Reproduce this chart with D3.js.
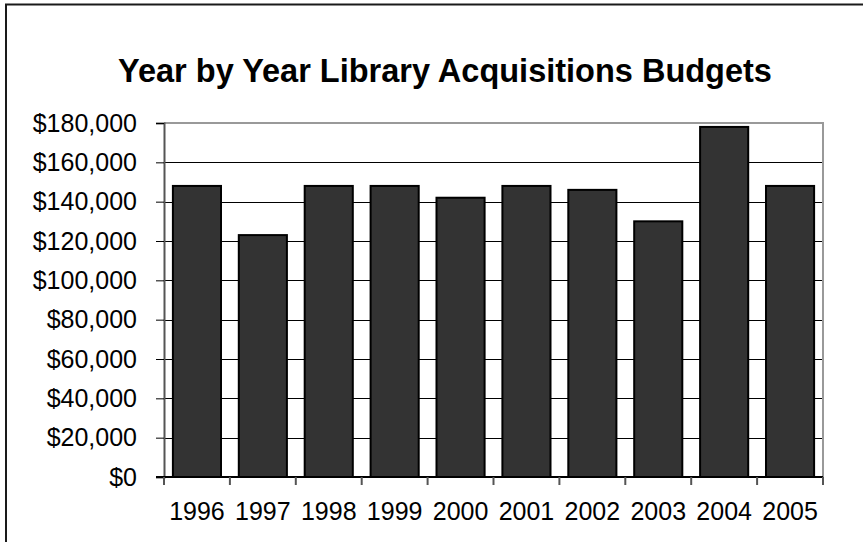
<!DOCTYPE html>
<html>
<head>
<meta charset="utf-8">
<script src="https://cdn.jsdelivr.net/npm/d3@7"></script>
<style>
  html, body { margin: 0; padding: 0; background: #fff; }
  svg { display: block; }
  text { font-family: "Liberation Sans", Arial, sans-serif; fill: #000; }
</style>
</head>
<body>
<svg id="chart" width="863" height="542"></svg>
<script>
const years = ["1996", "1997", "1998", "1999", "2000", "2001", "2002", "2003", "2004", "2005"];
const budgets = [148000, 123000, 148000, 148000, 142000, 148000, 146000, 130000, 178000, 148000];
const yTicks = [0, 20000, 40000, 60000, 80000, 100000, 120000, 140000, 160000, 180000];
const title = "Year by Year Library Acquisitions Budgets";

const W = 863, H = 542;
const plot = { left: 164, right: 823, top: 123, bottom: 477 };

const svg = d3.select("#chart");

// outer chart border (extends past right/bottom edges)
svg.append("rect")
  .attr("x", 6).attr("y", 4.5)
  .attr("width", W + 20).attr("height", H + 20)
  .attr("fill", "#fff")
  .attr("stroke", "#1a1a1a").attr("stroke-width", 2);

const x = d3.scaleBand()
  .domain(years)
  .range([plot.left, plot.right])
  .paddingInner(0.27)
  .paddingOuter(0.135);

const xEdges = d3.scaleBand().domain(years).range([plot.left, plot.right]).padding(0);

const y = d3.scaleLinear()
  .domain([0, 180000])
  .range([plot.bottom, plot.top]);

// gridlines
svg.append("g")
  .selectAll("line")
  .data(yTicks.filter(d => d > 0 && d < 180000))
  .join("line")
  .attr("x1", plot.left).attr("x2", plot.right)
  .attr("y1", d => Math.round(y(d)) + 0.5).attr("y2", d => Math.round(y(d)) + 0.5)
  .attr("stroke", "#000").attr("stroke-width", 1);

// plot area top/right border (gray)
svg.append("path")
  .attr("d", `M${plot.left},${plot.top} H${plot.right} V${plot.bottom}`)
  .attr("fill", "none")
  .attr("stroke", "#999").attr("stroke-width", 2);

// bars
svg.append("g")
  .selectAll("rect")
  .data(years.map((yr, i) => ({ yr, v: budgets[i] })))
  .join("rect")
  .attr("x", d => x(d.yr))
  .attr("y", d => y(d.v))
  .attr("width", x.bandwidth())
  .attr("height", d => y(0) - y(d.v))
  .attr("fill", "#333333")
  .attr("stroke", "#000").attr("stroke-width", 2);

// y axis
const yAxis = d3.axisLeft(y)
  .tickValues(yTicks)
  .tickSize(8)
  .tickPadding(19)
  .tickFormat(d => "$" + d3.format(",")(d));
const gy = svg.append("g").attr("transform", `translate(${plot.left},0)`).call(yAxis);
gy.select(".domain").attr("stroke", "#555").attr("stroke-width", 2);
gy.selectAll(".tick line").attr("stroke", "#000").attr("stroke-width", 1);
gy.selectAll(".tick text")
  .attr("font-size", 25)
  .attr("font-family", "Liberation Sans, Arial, sans-serif")
  .attr("fill", "#000");

// x axis
const gx = svg.append("g").attr("transform", `translate(0,${plot.bottom})`);
gx.append("line")
  .attr("x1", plot.left - 8).attr("x2", plot.right)
  .attr("y1", 0).attr("y2", 0)
  .attr("stroke", "#000").attr("stroke-width", 2);
const edges = years.map(yr => xEdges(yr)).concat([plot.right]);
gx.selectAll("line.tk")
  .data(edges)
  .join("line").attr("class", "tk")
  .attr("x1", d => d).attr("x2", d => d)
  .attr("y1", 0).attr("y2", 8)
  .attr("stroke", "#555").attr("stroke-width", 2);
gx.selectAll("text.lbl")
  .data(years)
  .join("text").attr("class", "lbl")
  .attr("x", d => xEdges(d) + xEdges.bandwidth() / 2)
  .attr("y", 43)
  .attr("text-anchor", "middle")
  .attr("font-size", 25)
  .text(d => d);

// title
svg.append("text")
  .attr("x", 445).attr("y", 82)
  .attr("text-anchor", "middle")
  .attr("font-size", 32.5)
  .attr("font-weight", "bold")
  .text(title);
</script>
</body>
</html>
